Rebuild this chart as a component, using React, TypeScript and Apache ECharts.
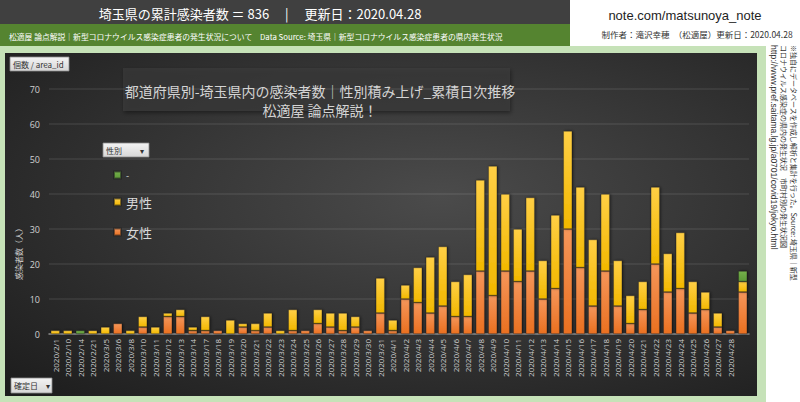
import React, { useEffect, useRef } from 'react';
import * as echarts from 'echarts';

const categories = [
  '2020/2/1', '2020/2/10', '2020/2/14', '2020/2/21', '2020/3/5', '2020/3/6', '2020/3/8',
  '2020/3/10', '2020/3/11', '2020/3/12', '2020/3/13', '2020/3/14', '2020/3/17', '2020/3/18',
  '2020/3/19', '2020/3/20', '2020/3/21', '2020/3/22', '2020/3/23', '2020/3/24', '2020/3/25',
  '2020/3/26', '2020/3/27', '2020/3/28', '2020/3/29', '2020/3/30', '2020/3/31',
  '2020/4/1', '2020/4/2', '2020/4/3', '2020/4/4', '2020/4/5', '2020/4/6', '2020/4/7',
  '2020/4/8', '2020/4/9', '2020/4/10', '2020/4/11', '2020/4/12', '2020/4/13', '2020/4/14',
  '2020/4/15', '2020/4/16', '2020/4/17', '2020/4/18', '2020/4/19', '2020/4/20', '2020/4/21',
  '2020/4/22', '2020/4/23', '2020/4/24', '2020/4/25', '2020/4/26', '2020/4/27', '2020/4/28', ''
];

const female = [
  0, 0, 0, 0, 0, 3, 0, 2, 0, 5, 5, 1, 1, 1, 0, 2, 1,
  2, 0, 1, 1, 3, 2, 1, 2, 1, 6,
  1, 10, 9, 6, 8, 5, 5, 18, 11, 18, 15, 18, 10, 13, 30, 19, 8, 18, 8, 3, 7, 20, 12, 13, 6, 7, 2, 1,
  12
];

const male = [
  1, 1, 0, 1, 2, 0, 1, 3, 2, 1, 2, 1, 4, 0, 4, 1, 2,
  4, 1, 6, 0, 4, 4, 5, 3, 0, 10,
  3, 4, 10, 16, 17, 10, 12, 26, 37, 22, 15, 21, 11, 21, 28, 23, 19, 22, 13, 8, 8, 22, 11, 16, 9, 5, 4, 0,
  3
];

const unknown = [
  0, 0, 1, 0, 0, 0, 0, 0, 0, 0, 0, 0, 0, 0, 0, 0, 0,
  0, 0, 0, 0, 0, 0, 0, 0, 0, 0,
  0, 0, 0, 0, 0, 0, 0, 0, 0, 0, 0, 0, 0, 0, 0, 0, 0, 0, 0, 0, 0, 0, 0, 0, 0, 0, 0, 0,
  3
];

const seriesNames = ['女性', '男性', '-'];
const yMin = 0;
const yMax = 70;
const yInterval = 10;

const JP = '"Noto Sans CJK JP", "Noto Sans", sans-serif';

export default function App() {
  const ref = useRef<HTMLDivElement>(null);

  useEffect(() => {
    document.body.style.margin = '0';
    const chart = echarts.init(ref.current!, null, { renderer: 'svg' });

    const grad = (top: string, bottom: string) =>
      new echarts.graphic.LinearGradient(0, 0, 0, 1, [
        { offset: 0, color: top },
        { offset: 1, color: bottom },
      ]);

    const barStyle = (top: string, bottom: string) => ({
      color: grad(top, bottom),
      borderColor: 'rgba(30,30,30,0.55)',
      borderWidth: 0.6,
      shadowBlur: 3,
      shadowOffsetX: 1,
      shadowColor: 'rgba(0,0,0,0.55)',
    });

    const toData = (arr: number[]) => arr.map((v) => (v === 0 ? '-' : v));

    const button = (x: number, y: number, w: number, h: number, label: string) => ({
      type: 'group',
      children: [
        {
          type: 'rect',
          shape: { x, y, width: w, height: h },
          style: {
            fill: new echarts.graphic.LinearGradient(0, 0, 0, 1, [
              { offset: 0, color: '#f4f4f4' },
              { offset: 1, color: '#d6d6d6' },
            ]),
            stroke: '#8a8a8a',
            lineWidth: 0.8,
          },
        },
        {
          type: 'text',
          x: x + 3,
          y: y + h / 2,
          style: {
            text: label,
            fill: '#333',
            font: `8px ${JP}`,
            textAlign: 'left',
            textVerticalAlign: 'middle',
            verticalAlign: 'middle',
          },
        },
      ],
    });

    const option: any = {
      animation: false,
      backgroundColor: '#c6e2b8',
      title: {
        text: '都道府県別-埼玉県内の感染者数｜性別積み上げ_累積日次推移\n松適屋 論点解説！',
        left: 315,
        top: 76,
        textAlign: 'center',
        textStyle: {
          color: '#d4d4d4',
          fontSize: 14,
          lineHeight: 19,
          fontWeight: 'normal',
          fontFamily: JP,
        },
      },
      legend: {
        orient: 'vertical',
        left: 108,
        top: 165,
        itemWidth: 7,
        itemHeight: 7,
        itemGap: 14,
        icon: 'rect',
        data: [
          { name: '-', textStyle: { fontSize: 9, lineHeight: 10 } },
          { name: '男性' },
          { name: '女性' },
        ],
        textStyle: { color: '#d9d9d9', fontSize: 13, lineHeight: 16, fontFamily: JP },
      },
      grid: { left: 49, top: 89, width: 700, height: 245, containLabel: false },
      xAxis: {
        type: 'category',
        data: categories,
        axisTick: { show: false },
        axisLine: { lineStyle: { color: '#8c8c8c', width: 1.5 } },
        axisLabel: {
          rotate: 90,
          interval: 0,
          fontSize: 8,
          color: '#cfcfcf',
          margin: 5,
          fontFamily: '"Open Sans", sans-serif',
        },
      },
      yAxis: {
        type: 'value',
        min: yMin,
        max: yMax,
        interval: yInterval,
        axisLine: { show: false },
        axisTick: { show: false },
        axisLabel: { fontSize: 9, color: '#d0d0d0', margin: 9, fontFamily: '"Open Sans", sans-serif' },
        splitLine: { lineStyle: { color: 'rgba(255,255,255,0.09)', width: 1.5 } },
      },
      series: [
        {
          name: seriesNames[0],
          type: 'bar',
          stack: 'total',
          barWidth: 9,
          data: toData(female),
          itemStyle: barStyle('#f5965a', '#ea7020'),
        },
        {
          name: seriesNames[1],
          type: 'bar',
          stack: 'total',
          barWidth: 9,
          data: toData(male),
          itemStyle: barStyle('#ffcf45', '#f2b800'),
        },
        {
          name: seriesNames[2],
          type: 'bar',
          stack: 'total',
          barWidth: 9,
          data: toData(unknown),
          itemStyle: barStyle('#74b04a', '#5e9a38'),
        },
      ],
      graphic: [
        { type: 'rect', z: -10, shape: { x: 570, y: 0, width: 230, height: 46 }, style: { fill: '#ffffff' } },
        { type: 'rect', z: -10, shape: { x: 766, y: 46, width: 34, height: 356 }, style: { fill: '#ffffff' } },
        { type: 'rect', z: -10, shape: { x: 0, y: 0, width: 570, height: 24 }, style: { fill: '#404040' } },
        { type: 'rect', z: -10, shape: { x: 0, y: 24, width: 570, height: 22 }, style: { fill: '#558430' } },
        {
          type: 'rect',
          z: -10,
          shape: { x: 5, y: 53, width: 752, height: 343 },
          style: {
            fill: new echarts.graphic.RadialGradient(0.58, 0.42, 0.8, [
              { offset: 0, color: '#4b4b4b' },
              { offset: 1, color: '#1d1d1d' },
            ]),
          },
        },
        {
          type: 'rect',
          z: -5,
          shape: { x: 123, y: 68, width: 387, height: 43 },
          style: {
            fill: 'rgba(62,62,62,0.55)',
            shadowBlur: 4,
            shadowOffsetX: 1,
            shadowOffsetY: 2,
            shadowColor: 'rgba(0,0,0,0.75)',
          },
        },
        {
          type: 'text',
          x: 260,
          y: 13,
          style: {
            text: '埼玉県の累計感染者数 ＝ 836　 |　 更新日：2020.04.28',
            fill: '#ffffff',
            font: `13px ${JP}`,
            textAlign: 'center',
            textVerticalAlign: 'middle',
            verticalAlign: 'middle',
          },
        },
        {
          type: 'text',
          x: 9,
          y: 36,
          style: {
            text: '松適屋 論点解説｜新型コロナウイルス感染症患者の発生状況について　Data Source: 埼玉県｜新型コロナウイルス感染症患者の県内発生状況',
            fill: '#ffffff',
            font: `7.8px ${JP}`,
            textAlign: 'left',
            textVerticalAlign: 'middle',
            verticalAlign: 'middle',
          },
        },
        {
          type: 'text',
          x: 685,
          y: 15,
          style: {
            text: 'note.com/matsunoya_note',
            fill: '#1e1e1e',
            font: '13px "Liberation Sans", Arial, sans-serif',
            textAlign: 'center',
            textVerticalAlign: 'middle',
            verticalAlign: 'middle',
          },
        },
        {
          type: 'text',
          x: 697,
          y: 34,
          style: {
            text: '制作者：滝沢幸穂　（松適屋）更新日：2020.04.28',
            fill: '#333333',
            font: `8.5px ${JP}`,
            textAlign: 'center',
            textVerticalAlign: 'middle',
            verticalAlign: 'middle',
          },
        },
        {
          type: 'text',
          x: 794,
          y: 45,
          rotation: -Math.PI / 2,
          style: {
            text: '※独自にデータベースを作成し解析と集計を行った。Source: 埼玉県｜新型',
            fill: '#333333',
            font: `7px ${JP}`,
            textAlign: 'left',
            textVerticalAlign: 'middle',
            verticalAlign: 'middle',
          },
        },
        {
          type: 'text',
          x: 784,
          y: 45,
          rotation: -Math.PI / 2,
          style: {
            text: 'コロナウイルス感染症の県内の発生状況　市町村別の発生状況図',
            fill: '#333333',
            font: `7px ${JP}`,
            textAlign: 'left',
            textVerticalAlign: 'middle',
            verticalAlign: 'middle',
          },
        },
        {
          type: 'text',
          x: 774,
          y: 45,
          rotation: -Math.PI / 2,
          style: {
            text: 'http://www.pref.saitama.lg.jp/a0701/covid19/jokyo.html',
            fill: '#333333',
            font: '8.5px "Liberation Sans", Arial, sans-serif',
            textAlign: 'left',
            textVerticalAlign: 'middle',
            verticalAlign: 'middle',
          },
        },
        {
          type: 'text',
          x: 18,
          y: 252,
          rotation: Math.PI / 2,
          style: {
            text: '感染者数（人）',
            fill: '#d0d0d0',
            font: `8px ${JP}`,
            textAlign: 'center',
            textVerticalAlign: 'middle',
            verticalAlign: 'middle',
          },
        },
        button(10, 57, 59, 14, '個数 / area_id'),
        button(103, 143, 46, 14, '性別　　 ▾'),
        button(11, 378, 41, 15, '確定日　▾'),
      ],
    };

    chart.setOption(option);
    return () => chart.dispose();
  }, []);

  return <div ref={ref} style={{ width: 800, height: 402 }} />;
}
